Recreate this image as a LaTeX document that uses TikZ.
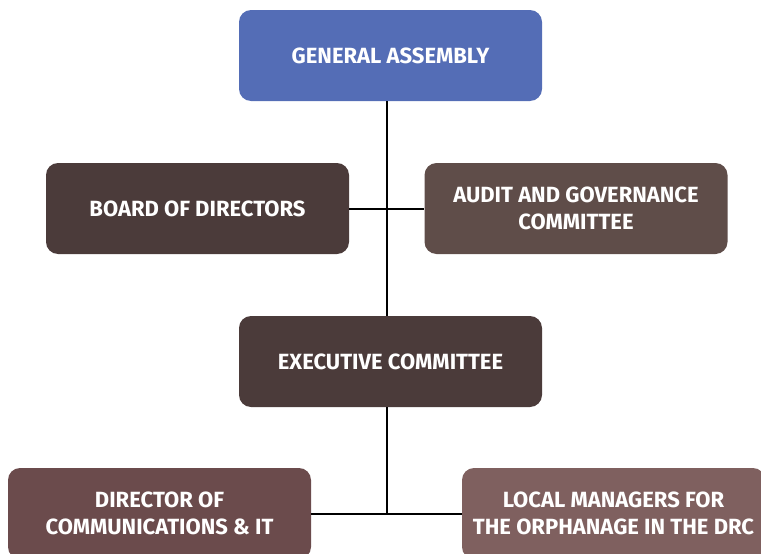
\documentclass[tikz,border=0pt]{standalone}
\usepackage{fontspec}
\setmainfont{Fira Sans}
\definecolor{gablue}{HTML}{546DB6}
\definecolor{darkbr}{HTML}{4B3B3A}
\definecolor{auditbr}{HTML}{5F4D49}
\definecolor{dirbr}{HTML}{6B4B4C}
\definecolor{locbr}{HTML}{7F605F}
\begin{document}
\begin{tikzpicture}[x=1pt,y=-1pt,
  orgbox/.style={rounded corners=12pt, minimum width=303pt, minimum height=91pt,
    inner sep=0pt, align=center, text=white, font=\fontsize{22}{27}\selectfont\bfseries},
  link/.style={line width=2pt, black}]
\useasboundingbox (0,0) rectangle (761,554);
\clip (0,0) rectangle (761,554);
\node[orgbox, fill=gablue] (ga) at (390.5,55.5) {GENERAL ASSEMBLY};
\node[orgbox, fill=darkbr] (bod) at (197.5,208.5) {BOARD OF DIRECTORS};
\node[orgbox, fill=auditbr] (aud) at (576,208.5) {AUDIT AND GOVERNANCE\\COMMITTEE};
\node[orgbox, fill=darkbr] (ex) at (390.5,361.5) {EXECUTIVE COMMITTEE};
\node[orgbox, fill=dirbr] (dir) at (159.5,513.5) {DIRECTOR OF\\COMMUNICATIONS \& IT};
\node[orgbox, fill=locbr] (loc) at (613.5,513.5) {LOCAL MANAGERS FOR\\THE ORPHANAGE IN THE DRC};
\coordinate (j1) at (387,208.5);
\coordinate (j2) at (387,514);
\draw[link] (bod.east) -- (aud.west);
\draw[link] (387,101) -- (387,316);
\draw[link] (387,407) -- (j2);
\draw[link] (dir.east) -- (loc.west);
\end{tikzpicture}
\end{document}
